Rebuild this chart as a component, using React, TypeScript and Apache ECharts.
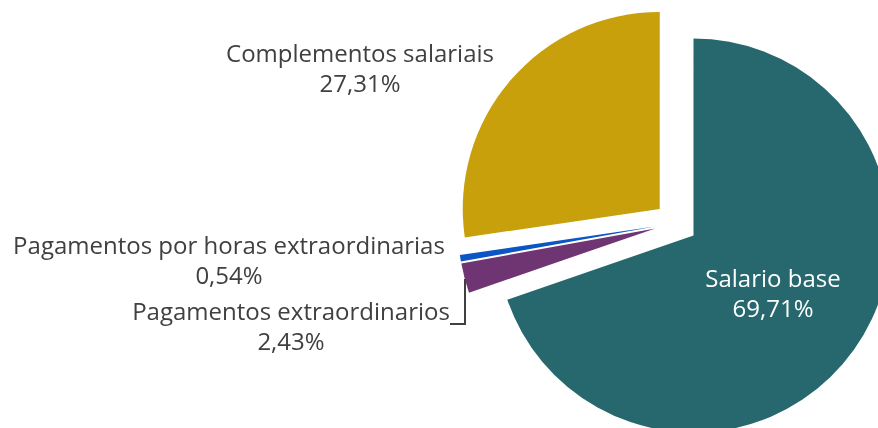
import React, { useEffect, useRef } from "react";
import * as echarts from "echarts";

const categories = [
  "Salario base",
  "Pagamentos extraordinarios",
  "Pagamentos por horas extraordinarias",
  "Complementos salariais",
];
const values = [69.71, 2.43, 0.54, 27.31];
const colors = ["#27686e", "#6f3573", "#0b55c4", "#c8a00c"];

// label placement (block centers) — styling only
const labelPos: [number, number][] = [
  [773, 292],
  [291, 325],
  [229, 259],
  [360, 67],
];

const fmt = (v: number) => `${v.toFixed(2).replace(".", ",")}%`;

export default function App() {
  const ref = useRef<HTMLDivElement>(null);
  useEffect(() => {
    if (!ref.current) return;
    const chart = echarts.init(ref.current, null, { renderer: "svg" });
    const data = categories.map((name, i) => ({
      name,
      value: values[i],
      selected: true,
      itemStyle: { color: colors[i] },
    }));
    const labels = categories.map((name, i) => ({
      type: "text",
      x: labelPos[i][0],
      y: labelPos[i][1],
      z: 10,
      style: {
        text: `${name}\n${fmt(values[i])}`,
        fill: i === 0 ? "#ffffff" : "#404040",
        fontFamily: "Open Sans",
        fontSize: 24,
        lineHeight: 30,
        align: "center",
        verticalAlign: "middle",
      },
    }));
    chart.setOption({
      animation: false,
      series: [
        {
          type: "pie",
          center: [676, 223],
          radius: 197,
          startAngle: 90,
          clockwise: true,
          selectedMode: "multiple",
          selectedOffset: 21.5,
          silent: true,
          emphasis: { disabled: true },
          select: { itemStyle: { borderWidth: 0 } },
          itemStyle: { borderWidth: 0 },
          label: { show: false },
          labelLine: { show: false },
          data,
        },
      ],
      graphic: [
        ...labels,
        {
          type: "polyline",
          z: 10,
          shape: {
            points: [
              [465, 279],
              [465, 324],
              [450, 324],
            ],
          },
          style: { stroke: "#404040", lineWidth: 2, fill: "none" },
        },
      ],
    });
    return () => chart.dispose();
  }, []);
  return (
    <div
      ref={ref}
      style={{ position: "fixed", left: 0, top: 0, width: 878, height: 428 }}
    />
  );
}
